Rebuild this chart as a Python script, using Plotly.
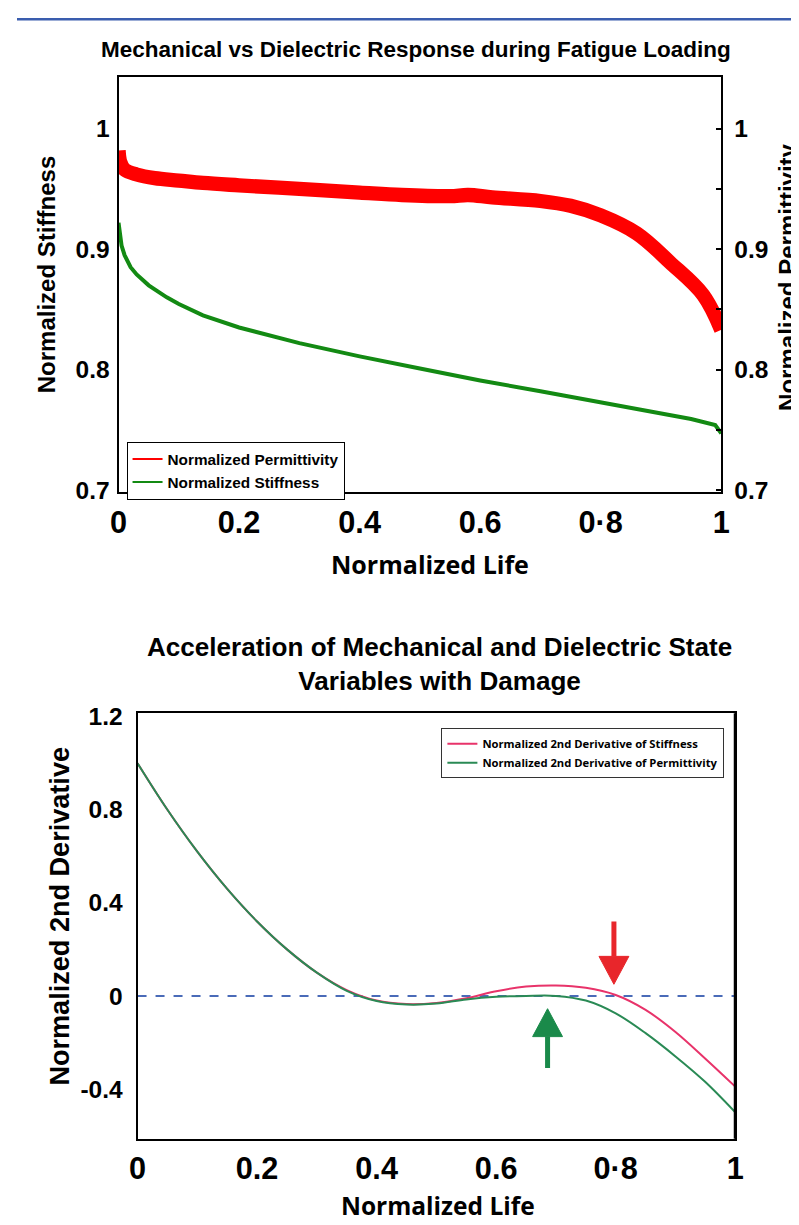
import plotly.graph_objects as go

# the photographed page maps figure pixel p to picture pixel A + S*p;
# positions below are given in picture pixels and converted
AX, SX = 15.4, 0.978
AY, SY = 16.0, 0.984
W, H = 801, 1229

# ---------------- data ----------------
life_perm = [0.0, 0.003, 0.01, 0.03, 0.06, 0.10, 0.14, 0.20, 0.30, 0.40, 0.47, 0.55,
             0.58, 0.62, 0.70, 0.75, 0.80, 0.86, 0.915, 0.97, 1.0]
permittivity = [0.982, 0.972, 0.966, 0.962, 0.959, 0.957, 0.955, 0.953, 0.950, 0.947,
                0.945, 0.944, 0.945, 0.943, 0.940, 0.936, 0.928, 0.913, 0.889, 0.862, 0.833]

life_stiff = [0.0, 0.005, 0.01, 0.02, 0.03, 0.05, 0.08, 0.10, 0.14, 0.20, 0.30, 0.40,
              0.50, 0.60, 0.70, 0.80, 0.90, 0.95, 0.99, 1.0]
stiffness = [0.922, 0.903, 0.895, 0.885, 0.879, 0.870, 0.860, 0.8545, 0.845, 0.835, 0.822,
             0.811, 0.801, 0.791, 0.782, 0.773, 0.764, 0.759, 0.754, 0.747]

life_d2 = [0.0, 0.05, 0.10, 0.15, 0.20, 0.25, 0.30, 0.35, 0.40, 0.45, 0.50, 0.55,
           0.60, 0.65, 0.70, 0.75, 0.80, 0.85, 0.90, 0.95, 1.0]
d2_stiffness = [1.00, 0.80, 0.62, 0.46, 0.32, 0.20, 0.10, 0.025, -0.02, -0.035, -0.03,
                -0.01, 0.02, 0.04, 0.045, 0.035, 0.004, -0.06, -0.155, -0.27, -0.39]
d2_permittivity = [1.00, 0.80, 0.62, 0.46, 0.32, 0.20, 0.10, 0.022, -0.022, -0.037,
                   -0.033, -0.015, -0.004, 0.0, 0.0, -0.02, -0.075, -0.16, -0.26, -0.37, -0.50]

x_ticks = [0, 0.2, 0.4, 0.6, 0.8, 1]
x_ticktext = ["0", "0.2", "0.4", "0.6", "0·8", "1"]
top_y_ticks = [0.7, 0.8, 0.9, 1.0]
top_y_ticktext = ["0.7", "0.8", "0.9", "1"]
right_y_ticks = [0.7, 0.75, 0.8, 0.85, 0.9, 0.95, 1.0]
right_y_ticktext = ["0.7", "", "0.8", "", "0.9", "", "1"]
bot_y_ticks = [-0.4, 0, 0.4, 0.8, 1.2]
bot_y_ticktext = ["-0.4", "0", "0.4", "0.8", "1.2"]

# arrows: (life, tail value, tip value)
red_arrow = (0.797, 0.32, 0.05)
green_arrow = (0.686, -0.31, -0.055)

# ---------------- styling ----------------
RED = "#FF0000"
GREEN_TOP = "#138A13"
PINK = "#E8336A"
GREEN_BOT = "#2A8A55"
ARIAL = "Liberation Sans, Arial, sans-serif"
NARROW = "Liberation Sans Narrow, Arial Narrow, Liberation Sans, sans-serif"
CAL = "Open Sans, Liberation Sans, sans-serif"


def px(x):
    return ((x - AX) / SX) / W


def py(y):
    return 1 - ((y - AY) / SY) / H


def fs(s):
    return s / SX


fig = go.Figure()

# top chart
fig.add_trace(go.Scatter(x=life_perm, y=permittivity, mode="lines", line_shape="spline",
                         line=dict(color=RED, width=fs(14)), xaxis="x", yaxis="y",
                         showlegend=False, hoverinfo="skip"))
fig.add_trace(go.Scatter(x=life_stiff, y=stiffness, mode="lines",
                         line=dict(color=GREEN_TOP, width=4), xaxis="x", yaxis="y",
                         showlegend=False, hoverinfo="skip"))
fig.add_trace(go.Scatter(x=[None], y=[None], mode="lines", name="Normalized Permittivity",
                         line=dict(color=RED, width=2), xaxis="x", yaxis="y", legend="legend"))
fig.add_trace(go.Scatter(x=[None], y=[None], mode="lines", name="Normalized Stiffness",
                         line=dict(color=GREEN_TOP, width=2), xaxis="x", yaxis="y", legend="legend"))
# invisible trace to draw right axis
fig.add_trace(go.Scatter(x=[None], y=[None], xaxis="x", yaxis="y2", showlegend=False))

# bottom chart
fig.add_trace(go.Scatter(x=[0, 1], y=[0, 0], mode="lines",
                         line=dict(color="#4A6BB8", width=2, dash="dash"),
                         xaxis="x3", yaxis="y3", showlegend=False, hoverinfo="skip"))
fig.add_trace(go.Scatter(x=life_d2, y=d2_stiffness, mode="lines", line_shape="spline",
                         name="Normalized 2nd Derivative of Stiffness",
                         line=dict(color=PINK, width=2), xaxis="x3", yaxis="y3", legend="legend2"))
fig.add_trace(go.Scatter(x=life_d2, y=d2_permittivity, mode="lines", line_shape="spline",
                         name="Normalized 2nd Derivative of Permittivity",
                         line=dict(color=GREEN_BOT, width=2), xaxis="x3", yaxis="y3", legend="legend2"))

shapes = []
# blue strip at top of page
shapes.append(dict(type="rect", xref="paper", yref="paper", x0=0, x1=1, y0=1 - 2.5 / H, y1=1,
                   fillcolor="#3A5DAE", line=dict(width=0)))
# heavier right border of the lower chart
shapes.append(dict(type="line", xref="x3 domain", yref="y3 domain", x0=1, x1=1, y0=0, y1=1,
                   line=dict(color="black", width=3)))


def arrow(a, color, down):
    x, tail, tip = a
    hw = 0.025  # half width of head in life units
    hl = 0.12   # head length in value units
    base = tip + hl if down else tip - hl
    shapes.append(dict(type="line", xref="x3", yref="y3", x0=x, x1=x, y0=tail, y1=base,
                       line=dict(color=color, width=5)))
    shapes.append(dict(type="path", xref="x3", yref="y3",
                       path=f"M {x - hw},{base} L {x + hw},{base} L {x},{tip} Z",
                       fillcolor=color, line=dict(color=color, width=1)))


arrow(red_arrow, "#E8262B", True)
arrow(green_arrow, "#1A8A4A", False)

ann = []


def text(x, y, s, size, family=ARIAL, angle=0, weight=700):
    ann.append(dict(xref="paper", yref="paper", x=px(x), y=py(y), text=s, showarrow=False,
                    xanchor="center", yanchor="middle", textangle=angle,
                    font=dict(family=family, size=fs(size), color="black", weight=weight)))


text(415, 48, "Mechanical vs Dielectric Response during Fatigue Loading", 22, NARROW)
text(429, 563, "Normalized Life", 24.5, CAL)
text(45, 273, "Normalized Stiffness", 23.5, ARIAL, -90)
text(786, 275, "Normalized Permittivity", 23.5, ARIAL, -90)
text(438, 663, "Acceleration of Mechanical and Dielectric State<br>Variables with Damage", 25.5, ARIAL)
text(437, 1205, "Normalized Life", 24, CAL)
text(57, 915, "Normalized 2nd Derivative", 26.5, ARIAL, -90)

axis_common = dict(showline=True, linecolor="black", mirror=True, showgrid=False,
                   zeroline=False, ticks="")

fig.update_layout(
    width=W, height=H, margin=dict(l=0, r=0, t=0, b=0),
    paper_bgcolor="white", plot_bgcolor="white",
    xaxis=dict(domain=[px(117), px(720)], range=[0, 1], anchor="y", linewidth=2,
               tickvals=x_ticks, ticktext=x_ticktext, ticklabelstandoff=2,
               tickfont=dict(family=NARROW, size=fs(30), color="black", weight=700), **axis_common),
    yaxis=dict(domain=[py(491), py(75)], range=[0.698, 1.043], anchor="x", linewidth=2,
               tickvals=top_y_ticks, ticktext=top_y_ticktext, ticklabelstandoff=2,
               tickfont=dict(family=ARIAL, size=fs(24), color="black", weight=700), **axis_common),
    yaxis2=dict(overlaying="y", side="right", range=[0.698, 1.043], anchor="x",
                showline=False, showgrid=False, zeroline=False,
                tickvals=right_y_ticks, ticktext=right_y_ticktext, ticks="inside",
                ticklen=5, tickwidth=1.5, tickcolor="black", ticklabelstandoff=12,
                tickfont=dict(family=ARIAL, size=fs(24), color="black", weight=700)),
    xaxis3=dict(domain=[px(136), px(734)], range=[0, 1], anchor="y3", linewidth=2,
                tickvals=x_ticks, ticktext=x_ticktext, ticklabelstandoff=1,
                tickfont=dict(family=NARROW, size=fs(30), color="black", weight=700), **axis_common),
    yaxis3=dict(domain=[py(1138), py(712)], range=[-0.614, 1.215], anchor="x3", linewidth=2,
                tickvals=bot_y_ticks, ticktext=bot_y_ticktext, ticklabelstandoff=8,
                tickfont=dict(family=ARIAL, size=fs(24), color="black", weight=700), **axis_common),
    legend=dict(x=px(125), y=py(440), xanchor="left", yanchor="top",
                bgcolor="white", bordercolor="black", borderwidth=1, itemwidth=30,
                tracegroupgap=0,
                font=dict(family=ARIAL, size=fs(15), color="black", weight=700)),
    legend2=dict(x=px(440), y=py(727), xanchor="left", yanchor="top",
                 bgcolor="white", bordercolor="#333333", borderwidth=1, itemwidth=30,
                 tracegroupgap=0,
                 font=dict(family=CAL, size=fs(11), color="black", weight=700)),
    shapes=shapes, annotations=ann,
)

fig.write_html("out.html")
